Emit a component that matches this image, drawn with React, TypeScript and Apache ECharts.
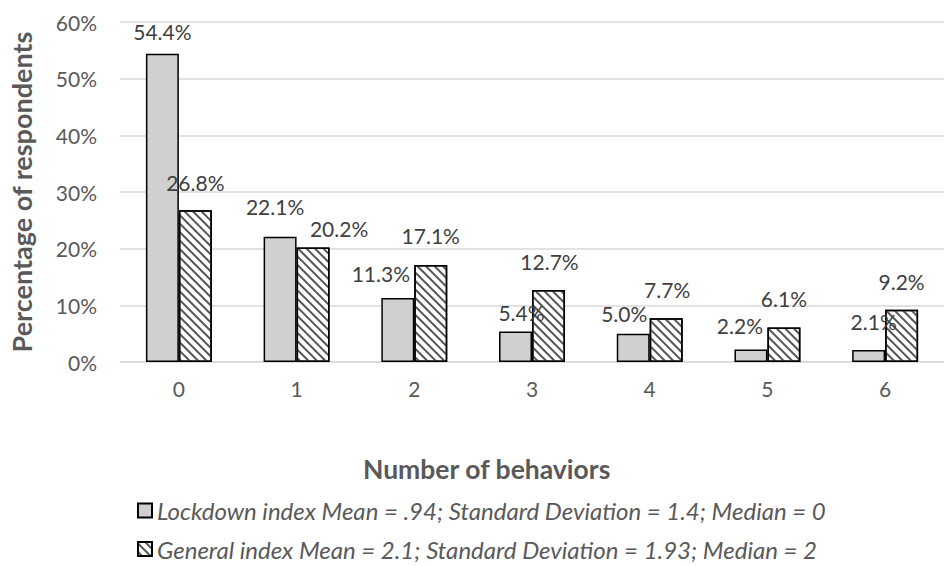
import React, { useEffect, useRef } from "react";
import * as echarts from "echarts";

const categories = ["0", "1", "2", "3", "4", "5", "6"];
const lockdownValues = [54.4, 22.1, 11.3, 5.4, 5.0, 2.2, 2.1];
const generalValues = [26.8, 20.2, 17.1, 12.7, 7.7, 6.1, 9.2];
const yTicks = [0, 10, 20, 30, 40, 50, 60];
const lockdownName = "Lockdown index Mean = .94; Standard Deviation = 1.4; Median = 0";
const generalName = "General index Mean = 2.1; Standard Deviation = 1.93; Median = 2";
const xTitle = "Number of behaviors";
const yTitle = "Percentage of respondents";

// label nudges (dx, dy) to mimic the original label placement
const lockdownNudges: [number, number][] = [[0, -7], [-5, -15], [-17, -9], [6, -3], [-9, -5], [-11, -9], [5, -13]];
const generalNudges: [number, number][] = [[0, -12], [26, -4], [0, -14], [1, -13], [1, -13], [0, -13], [0, -13]];

const FONT = "Lato";
const TEXT = "#595959";
const LABEL = "#404040";

export default function App() {
  const ref = useRef<HTMLDivElement>(null);
  useEffect(() => {
    if (!ref.current) return;
    const chart = echarts.init(ref.current, null, { renderer: "svg" });
    const mk = (vals: number[], nudges: [number, number][]) =>
      vals.map((v, i) => ({ value: v, label: { offset: nudges[i] } }));
    const legendCommon = {
      orient: "horizontal",
      left: 132,
      itemWidth: 14,
      itemHeight: 14,
      itemGap: 10,
      icon: "rect",
      textStyle: { color: TEXT, fontSize: 24, fontStyle: "italic", fontFamily: FONT, lineHeight: 26 },
    };
    chart.setOption({
      animation: false,
      backgroundColor: "#ffffff",
      textStyle: { fontFamily: FONT },
      grid: { left: 119.5, top: 22, width: 837.7, height: 340, containLabel: false },
      xAxis: {
        type: "category",
        data: categories,
        axisLine: { show: true, lineStyle: { color: "#d9d9d9", width: 1.5 } },
        axisTick: { show: false },
        axisLabel: { color: TEXT, fontSize: 21, fontFamily: FONT, margin: 16 },
      },
      yAxis: {
        type: "value",
        min: yTicks[0],
        max: yTicks[yTicks.length - 1],
        interval: 10,
        name: yTitle,
        nameLocation: "middle",
        nameRotate: 90,
        nameGap: 85,
        nameTextStyle: { color: TEXT, fontSize: 27, fontWeight: "bold", fontFamily: FONT },
        axisLine: { show: false },
        axisTick: { show: false },
        axisLabel: { color: TEXT, fontSize: 21, fontFamily: FONT, margin: 23, formatter: "{value}%" },
        splitLine: { lineStyle: { color: "#d9d9d9", width: 1.5 } },
      },
      legend: [
        { ...legendCommon, top: 492.5, data: [lockdownName] },
        { ...legendCommon, top: 531, data: [generalName] },
      ],
      graphic: [
        {
          type: "text",
          left: 363,
          top: 455,
          style: { text: xTitle, fill: TEXT, font: `bold 26.5px ${FONT}` },
        },
      ],
      series: [
        {
          name: lockdownName,
          type: "bar",
          data: mk(lockdownValues, lockdownNudges),
          barGap: "0%",
          barCategoryGap: "44%",
          itemStyle: { color: "#d0d0d0", borderColor: "#000000", borderWidth: 1.5 },
          label: {
            show: true,
            position: "top",
            color: LABEL,
            fontSize: 21,
            fontFamily: FONT,
            formatter: (p: any) => `${Number(p.value).toFixed(1)}%`,
          },
        },
        {
          name: generalName,
          type: "bar",
          data: mk(generalValues, generalNudges),
          itemStyle: {
            color: "#ffffff",
            borderColor: "#000000",
            borderWidth: 1.5,
            decal: {
              symbol: "rect",
              symbolSize: 1,
              symbolKeepAspect: false,
              dashArrayX: [1, 0],
              dashArrayY: [2, 3.66],
              rotation: Math.PI / 4,
              color: "#555555",
              backgroundColor: "#ffffff",
            },
          },
          label: {
            show: true,
            position: "top",
            color: LABEL,
            fontSize: 21,
            fontFamily: FONT,
            formatter: (p: any) => `${Number(p.value).toFixed(1)}%`,
          },
        },
      ],
    });
    return () => chart.dispose();
  }, []);
  return <div ref={ref} style={{ position: "fixed", left: 0, top: 0, width: 944, height: 566 }} />;
}
